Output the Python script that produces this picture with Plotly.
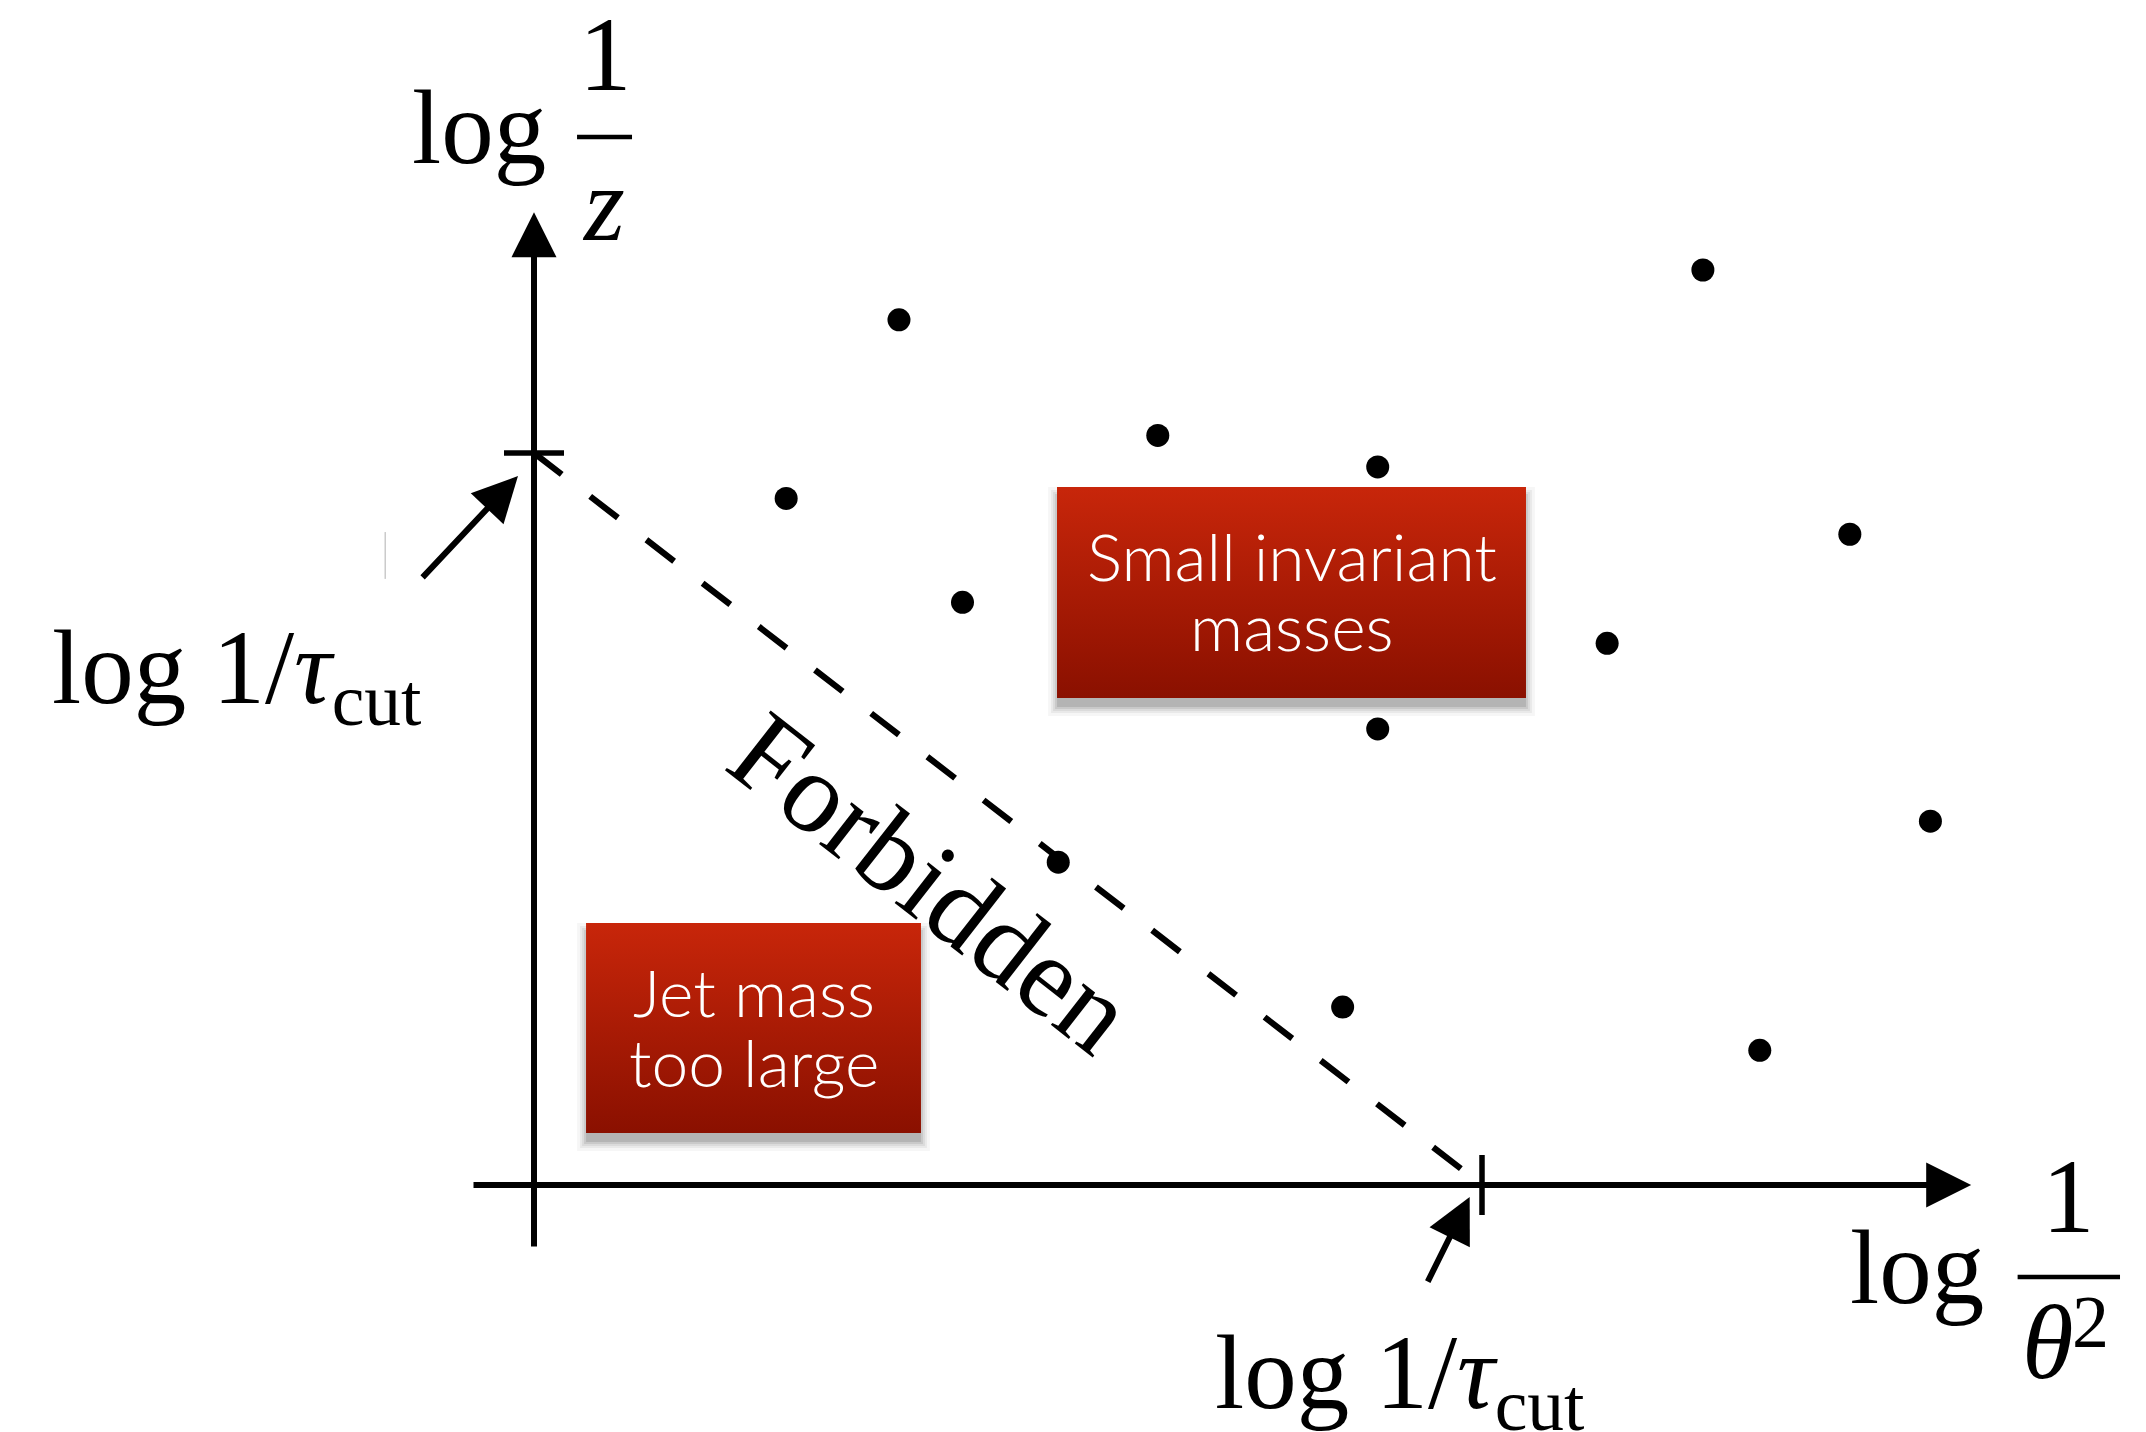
import plotly.graph_objects as go

# ---------------- data (units: log 1/tau_cut = 1) ----------------
tau_cut = 1.0
emission_log_inv_theta2 = [0.385, 0.266, 0.452, 0.658, 0.890, 0.890, 1.132, 1.233, 1.388, 1.473, 0.553, 0.853, 1.293]
emission_log_inv_z = [1.182, 0.938, 0.796, 1.024, 0.981, 0.623, 0.740, 1.250, 0.889, 0.497, 0.441, 0.243, 0.184]

region_labels = [["Small invariant", "masses"], ["Jet mass", "too large"]]
region_boxes = [(0.5517, 1.0464, 0.6653, 0.9536), (0.0549, 0.4082, 0.0710, 0.3579)]

# page body has an 8px margin: figure is sized to fit inside the window
W, H = 2138, 1424
XR = [-0.55485, 1.70042]
YR = [-0.33743, 1.60792]
PX_X = W / (XR[1] - XR[0])
PX_Y = H / (YR[1] - YR[0])

SERIF = "Liberation Serif"
SANS = "Lato"
FS = 105

fig = go.Figure()
shapes = []
annotations = []

# shadows + gradient boxes
for (x0, x1, y0, y1) in region_boxes:
    off = 9
    for grow, alpha in [(9, 0.035), (6, 0.05), (4, 0.06), (2, 0.08), (0, 0.1)]:
        shapes.append(dict(type="rect", xref="x", yref="y", layer="below",
                           x0=x0 - grow / PX_X, x1=x1 + grow / PX_X,
                           y0=y0 - (off + grow) / PX_Y, y1=y1 - (off - grow) / PX_Y,
                           fillcolor=f"rgba(0,0,0,{alpha})", line=dict(width=0)))
    fig.add_trace(go.Scatter(x=[x0, x1, x1, x0, x0], y=[y0, y0, y1, y1, y0],
                             mode="lines", fill="toself", line=dict(width=0),
                             fillgradient=dict(type="vertical",
                                               colorscale=[[0, "#8A1000"], [1, "#C8260A"]]),
                             hoverinfo="skip"))

# forbidden boundary
fig.add_trace(go.Scatter(x=[0, tau_cut], y=[tau_cut, 0], mode="lines",
                         line=dict(color="black", width=6.2, dash="35px,36px"),
                         hoverinfo="skip"))

# emissions
fig.add_trace(go.Scatter(x=emission_log_inv_theta2, y=emission_log_inv_z, mode="markers",
                         marker=dict(size=23, color="black"), hoverinfo="skip"))

# ticks
tk = 30
shapes.append(dict(type="line", xref="x", yref="y", x0=-tk / PX_X, x1=tk / PX_X,
                   y0=tau_cut, y1=tau_cut, line=dict(color="black", width=5.5)))
shapes.append(dict(type="line", xref="x", yref="y", x0=tau_cut, x1=tau_cut,
                   y0=-tk / PX_Y, y1=tk / PX_Y, line=dict(color="black", width=5.5)))
# faint stray line
shapes.append(dict(type="line", xref="x", yref="y", x0=-0.157, x1=-0.157,
                   y0=0.828, y1=0.892, line=dict(color="#b0b0b0", width=1)))


def arrow(xt, yt, xa, ya):
    return dict(x=xt, y=yt, ax=xa, ay=ya, xref="x", yref="y", axref="x", ayref="y",
                text="", showarrow=True, arrowhead=2, arrowsize=1.5, arrowwidth=6,
                arrowcolor="black", standoff=0)


annotations += [
    arrow(0, 1.329, 0, -0.086),
    arrow(1.516, 0, -0.0654, 0),
    arrow(-0.0169, 0.9686, -0.119, 0.828),
    arrow(0.987, -0.0164, 0.942, -0.134),
]


def txt(x, y, s, size=FS, family=SERIF, xa="center", ya="middle", color="black", angle=0, weight=None):
    f = dict(family=family, size=size, color=color)
    if weight:
        f["weight"] = weight
    return dict(x=x, y=y, xref="x", yref="y", text=s, showarrow=False, xanchor=xa, yanchor=ya,
                font=f, textangle=angle)


# axis labels
annotations += [
    txt(-0.1308, 1.4445, "log", xa="left"),
    txt(0.0749, 1.5443, "1"),
    txt(0.0738, 1.3393, "<i>z</i>"),
    txt(1.386, -0.1128, "log", xa="left"),
    txt(1.619, -0.0158, "1"),
    txt(1.5675, -0.2153, "<i>θ</i>", xa="left"),
    txt(1.6205, -0.1870, "2", size=74, xa="left"),
    txt(-0.5105, 0.7896, "log 1/<i>τ</i><sub>cut</sub>", xa="left", ya="top"),
    txt(0.716, -0.1735, "log 1/<i>τ</i><sub>cut</sub>", xa="left", ya="top"),
    txt(0.4188, 0.4126, "Forbidden", size=115, angle=38),
]
shapes.append(dict(type="line", xref="x", yref="y", x0=0.0454, x1=0.1034, y0=1.4317, y1=1.4317,
                   line=dict(color="black", width=4.5)))
shapes.append(dict(type="line", xref="x", yref="y", x0=1.565, x1=1.673, y0=-0.1257, y1=-0.1257,
                   line=dict(color="black", width=4.5)))

# box labels
line_y = [[0.8593, 0.7637], [0.265, 0.1694]]
for (x0, x1, y0, y1), lines, ys in zip(region_boxes, region_labels, line_y):
    for s, yy in zip(lines, ys):
        annotations.append(txt((x0 + x1) / 2, yy, s, size=66, family=SANS, color="white", weight=300))

fig.update_layout(
    width=W, height=H, margin=dict(l=0, r=0, t=0, b=0),
    paper_bgcolor="white", plot_bgcolor="white", showlegend=False,
    xaxis=dict(range=XR, visible=False, fixedrange=True),
    yaxis=dict(range=YR, visible=False, fixedrange=True),
    shapes=shapes, annotations=annotations,
)
fig.write_html("out.html")
